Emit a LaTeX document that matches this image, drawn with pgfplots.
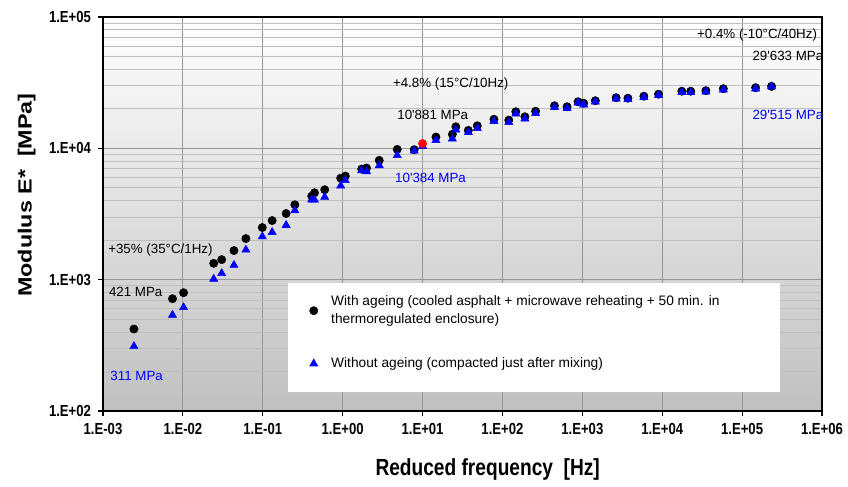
\documentclass[border=0pt]{standalone}
\usepackage{pgfplots}
\pgfplotsset{compat=1.18}
\usepackage{graphicx}
\usepackage{fontspec}
\setmainfont{Liberation Sans}[FakeStretch=0.82]
\newfontfamily\plainsf{Liberation Sans}
\definecolor{bgbot}{RGB}{192,192,192}
\definecolor{mblue}{RGB}{0,0,255}
\definecolor{gridmaj}{RGB}{150,150,150}
\definecolor{gridmin}{RGB}{190,190,190}

\pgfplotstableread{
x y
0.00244 421
0.00741 716
0.0102 796
0.0243 1331
0.0306 1421
0.0436 1665
0.0615 2055
0.0986 2494
0.131 2820
0.196 3190
0.252 3717
0.410 4325
0.444 4590
0.596 4840
0.944 5930
1.08 6150
1.73 6950
1.99 7080
2.87 8100
4.82 9820
7.86 9770
14.7 12190
23.6 12790
26.1 14590
37.4 13710
48.4 14850
78.3 16650
120 16400
147 19000
191 17400
260 19150
448 21100
644 20730
883 22640
1040 22060
1455 23050
2648 24290
3717 24080
5889 24950
8990 25840
17580 27220
22750 27220
35200 27480
58200 28460
147500 28970
233500 29633
}\aged

\pgfplotstableread{
x y
0.00244 311
0.00741 538
0.0102 615
0.0243 1012
0.0306 1117
0.0436 1290
0.0615 1686
0.0986 2130
0.131 2296
0.196 2600
0.252 3365
0.410 4058
0.444 4058
0.596 4250
0.944 5190
1.08 5700
1.73 6790
1.99 6670
2.87 7410
4.82 8850
7.86 9570
10 10384
14.7 11510
23.6 11820
26.1 13840
37.4 13250
48.4 14210
78.3 16080
120 15790
147 18340
191 16800
260 18500
448 20550
644 20180
883 22240
1040 21480
1455 22640
2648 23860
3717 23650
5889 24500
8990 25400
17580 26740
22750 26740
35200 27000
58200 27970
147500 28460
233500 29515
}\unaged

\pgfplotstableread{
x y
10 10881
}\redpt

\begin{document}
\begin{tikzpicture}
\useasboundingbox (0,0) rectangle (636pt,364.5pt);
\begin{axis}[
  at={(77.25pt,56.25pt)}, anchor=south west,
  scale only axis, width=539.25pt, height=295.5pt,
  xmode=log, ymode=log,
  xmin=1e-3, xmax=1e6, ymin=100, ymax=100000,
  xtick={1e-3,1e-2,1e-1,1,10,100,1000,10000,100000,1000000},
  xticklabels={1.E-03,1.E-02,1.E-01,1.E+00,1.E+01,1.E+02,1.E+03,1.E+04,1.E+05,1.E+06},
  ytick={100,1000,10000,100000},
  yticklabels={1.E+02,1.E+03,1.E+04,1.E+05},
  xminorticks=false,
  xtick pos=bottom, ytick pos=left,
  tick label style={font=\fontsize{12}{14}\selectfont\bfseries},
  xticklabel style={yshift=-2pt},
  yticklabel style={xshift=-1.5pt},
  tick align=outside,
  major tick length=4pt,
  minor tick length=0pt,
  tick style={black, line width=0.8pt},
  xmajorgrids, ymajorgrids, yminorgrids,
  major grid style={gridmaj, line width=0.7pt},
  minor grid style={gridmin, line width=0.6pt},
  axis line style={black, line width=1.5pt},
  axis background/.style={top color=white, bottom color=bgbot},
  xlabel={Reduced frequency\ \ [Hz]},
  xlabel style={font=\fontsize{17.5}{20}\selectfont\bfseries, at={(axis description cs:0.535,-0.148)}, anchor=center},
  ylabel={\scalebox{1}[0.82]{\plainsf\bfseries Modulus E*\ \ [MPa]}},
  ylabel style={font=\fontsize{17.5}{20}\selectfont, at={(axis description cs:-0.106,0.548)}, anchor=center},
  legend style={at={(rel axis cs:0.287,0.300)}, anchor=north west, draw=none, fill=none,
    inner sep=0pt, font=\plainsf\fontsize{10.3}{13.5}\selectfont, cells={align=left},
    row sep=20pt, column sep=8pt},
  legend cell align=left,
  legend image code/.code={\draw[mark repeat=2,mark phase=2,#1] plot coordinates {(0cm,0cm)(0.15cm,0cm)(0.3cm,0cm)};},
]
\fill[white] (rel axis cs:0.257,0.325) rectangle (rel axis cs:0.942,0.048);
\addplot[only marks, mark=*, mark size=3.1pt, draw=black, fill=black] table[x=x,y=y] {\aged};
\addlegendentry{With ageing (cooled asphalt + microwave reheating + 50 min. in\\thermoregulated enclosure)}
\addplot[only marks, mark=triangle*, mark size=3.5pt, draw=mblue, fill=mblue] table[x=x,y=y] {\unaged};
\addlegendentry{Without ageing (compacted just after mixing)}
\addplot[only marks, mark=*, mark size=3.1pt, draw=red, fill=red, forget plot] table[x=x,y=y] {\redpt};

\tikzset{ann/.style={anchor=west, inner sep=0pt, font=\plainsf\fontsize{10}{12}\selectfont}}
\node[ann] at (rel axis cs:0.007,0.409) {+35\% (35°C/1Hz)};
\node[ann] at (rel axis cs:0.008,0.303) {421 MPa};
\node[ann, text=mblue] at (rel axis cs:0.010,0.090) {311 MPa};
\node[ann] at (rel axis cs:0.403,0.830) {+4.8\% (15°C/10Hz)};
\node[ann] at (rel axis cs:0.409,0.751) {10'881 MPa};
\node[ann, text=mblue] at (rel axis cs:0.406,0.591) {10'384 MPa};
\node[ann] at (rel axis cs:0.826,0.954) {+0.4\% (-10°C/40Hz)};
\node[ann] at (rel axis cs:0.903,0.901) {29'633 MPa};
\node[ann, text=mblue] at (rel axis cs:0.903,0.751) {29'515 MPa};
\end{axis}
\end{tikzpicture}
\end{document}
